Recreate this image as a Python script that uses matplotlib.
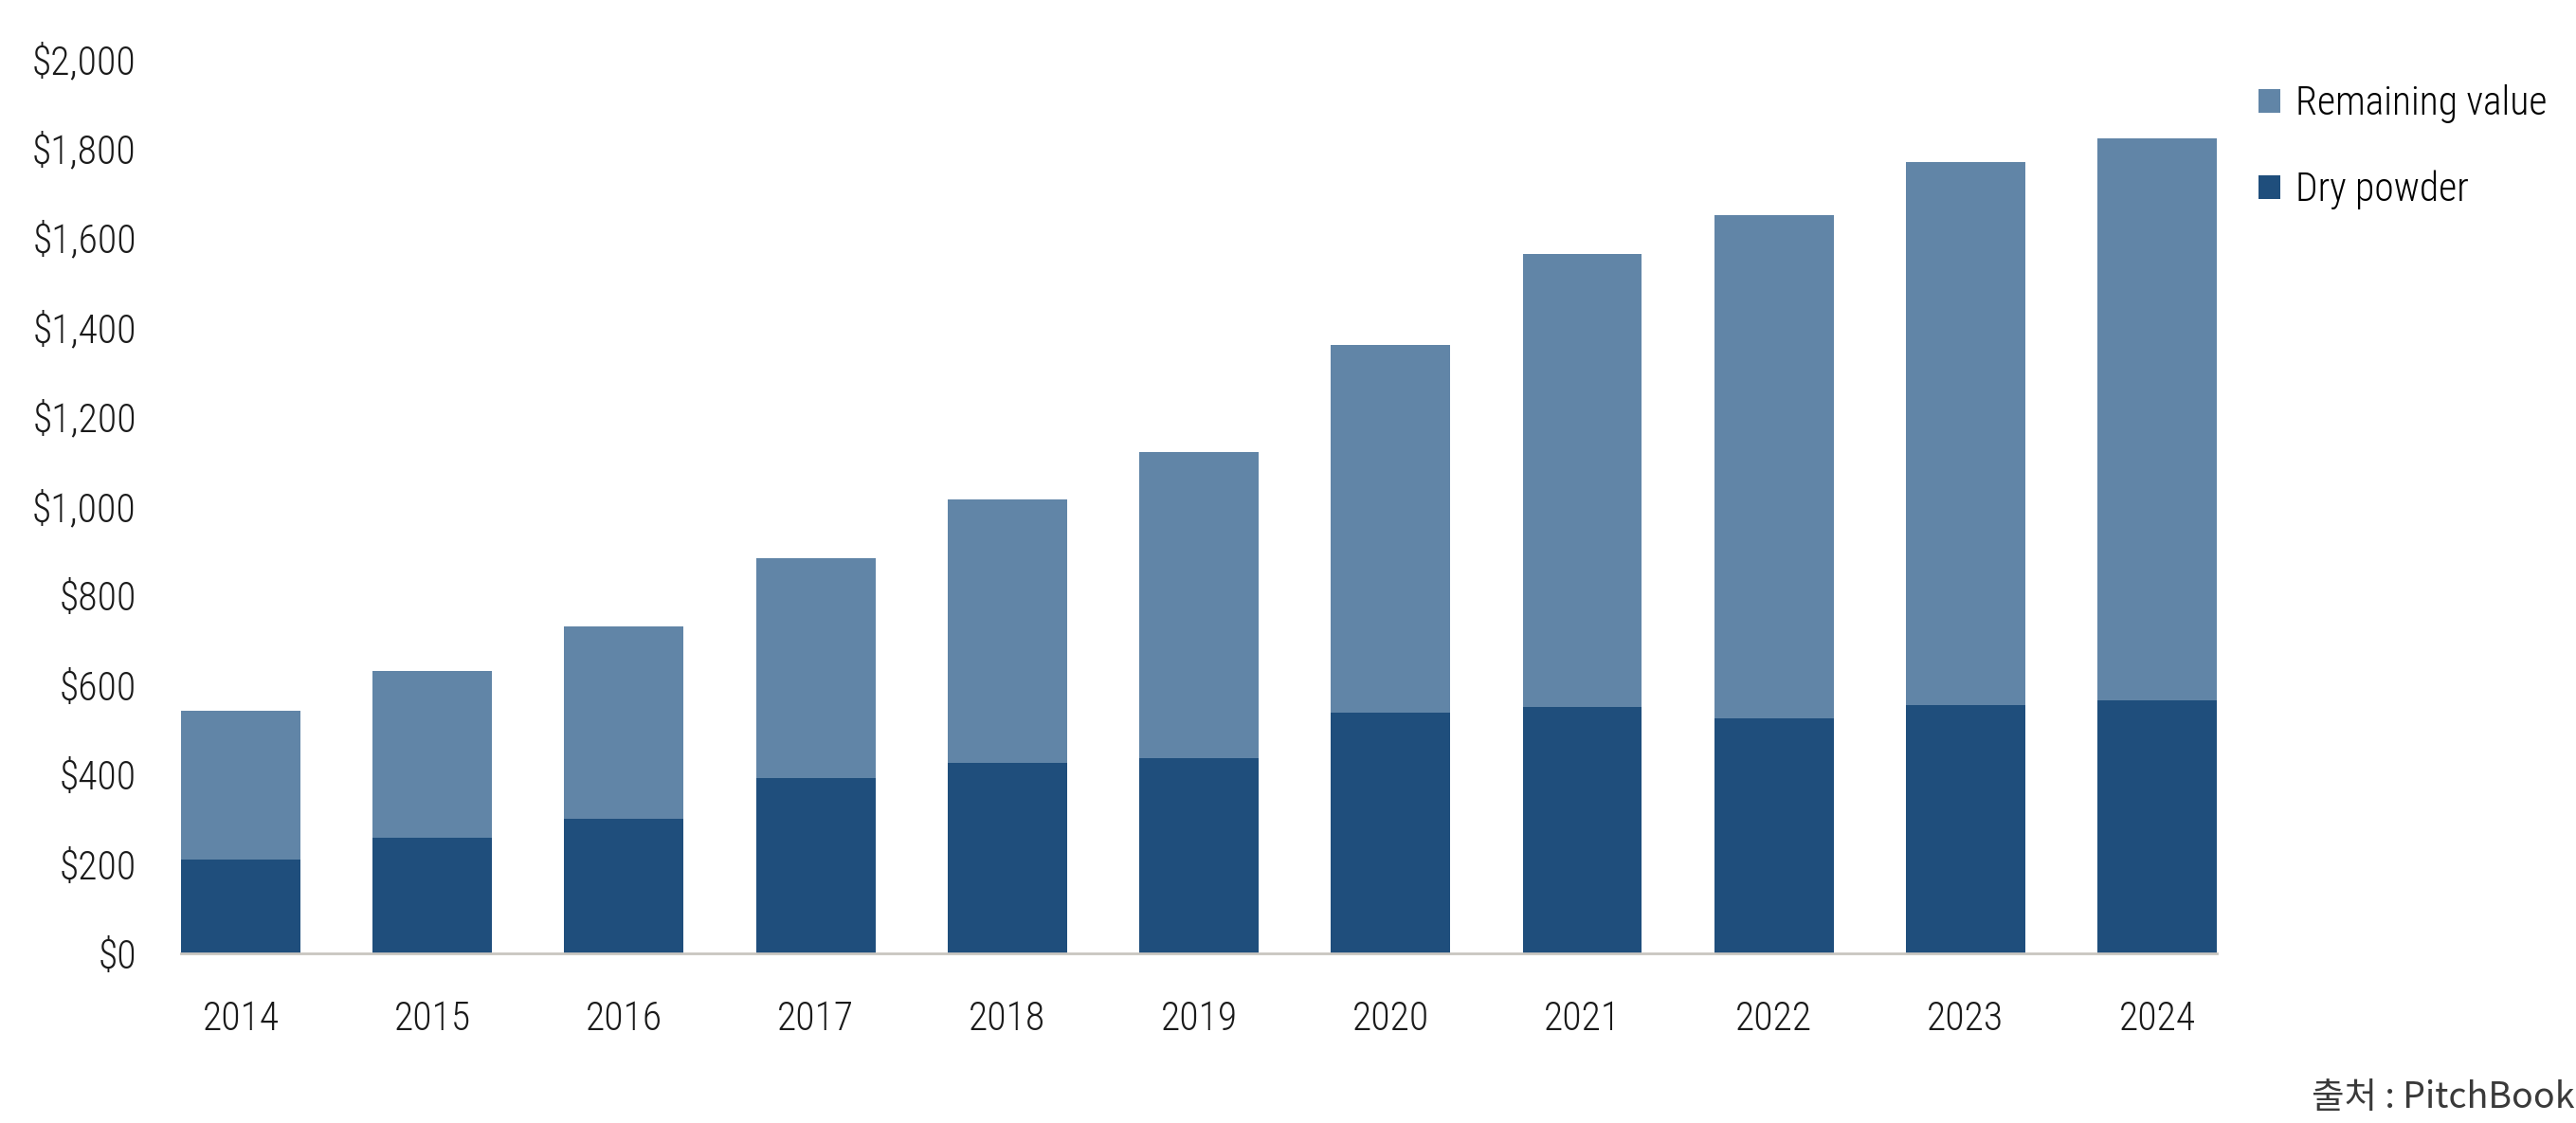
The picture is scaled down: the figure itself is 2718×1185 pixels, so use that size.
import matplotlib
matplotlib.use('Agg')
import matplotlib.pyplot as plt
from matplotlib import font_manager
import numpy as np

years = ['2014', '2015', '2016', '2017', '2018', '2019', '2020', '2021', '2022', '2023', '2024']
dry_powder = [209, 258, 302, 391, 427, 436, 539, 550, 526, 556, 566]
remaining_value = [334, 374, 428, 493, 588, 685, 822, 1013, 1125, 1213, 1255]
y_ticks = [0, 200, 400, 600, 800, 1000, 1200, 1400, 1600, 1800, 2000]

light_blue = '#6185a7'
dark_blue = '#1f4e7c'

# narrow face if there is one, else Roboto
installed = {f.name for f in font_manager.fontManager.ttflist}
fam, fs = 'Roboto', 26
for name, size in [('Roboto Condensed', 30), ('Liberation Sans Narrow', 30),
                   ('Open Sans Condensed', 30)]:
    if name in installed:
        fam, fs = name, size
        break
font = [fam, 'DejaVu Sans']

fig = plt.figure(figsize=(27.18, 11.85), dpi=100)
ax = fig.add_axes((0.0703, 0.151, 0.8606 - 0.0703, 0.9477 - 0.151))

x = np.arange(len(years))
w = 0.623
ax.bar(x, dry_powder, width=w, color=dark_blue, label='Dry powder', zorder=2)
ax.bar(x, remaining_value, width=w, bottom=dry_powder, color=light_blue,
       label='Remaining value', zorder=2)

ax.set_xlim(-w / 2, len(years) - 1 + w / 2)
ax.set_ylim(0, 2000)
ax.set_yticks(y_ticks)
ax.set_yticklabels([f'${v:,}' for v in y_ticks], family=font, fontsize=fs,
                   weight='light', color='#1a1a1a')
ax.set_xticks(x)
ax.set_xticklabels(years, family=font, fontsize=fs, weight='light', color='#1a1a1a')
ax.tick_params(axis='y', length=0, pad=34)
ax.tick_params(axis='x', length=0, pad=35)

for s in ['top', 'right', 'left']:
    ax.spines[s].set_visible(False)
ax.spines['bottom'].set_color('#c9c6c0')
ax.spines['bottom'].set_linewidth(2)
ax.spines['bottom'].set_zorder(3)

handles, labels = ax.get_legend_handles_labels()
leg = fig.legend(handles[::-1], labels[::-1], loc='upper left',
                 bbox_to_anchor=(0.8705, 0.939), frameon=False,
                 prop={'family': font, 'size': fs, 'weight': 'light'},
                 handlelength=0.55, handleheight=0.55, handletextpad=0.4,
                 labelspacing=1.2, borderaxespad=0)

fig.text(0.9995, 0.006, '출처 : PitchBook', ha='right', va='bottom',
         family=['Noto Sans CJK KR', 'DejaVu Sans'], fontsize=27, color='#3a3a3a')

fig.savefig('out.png', dpi=100)
